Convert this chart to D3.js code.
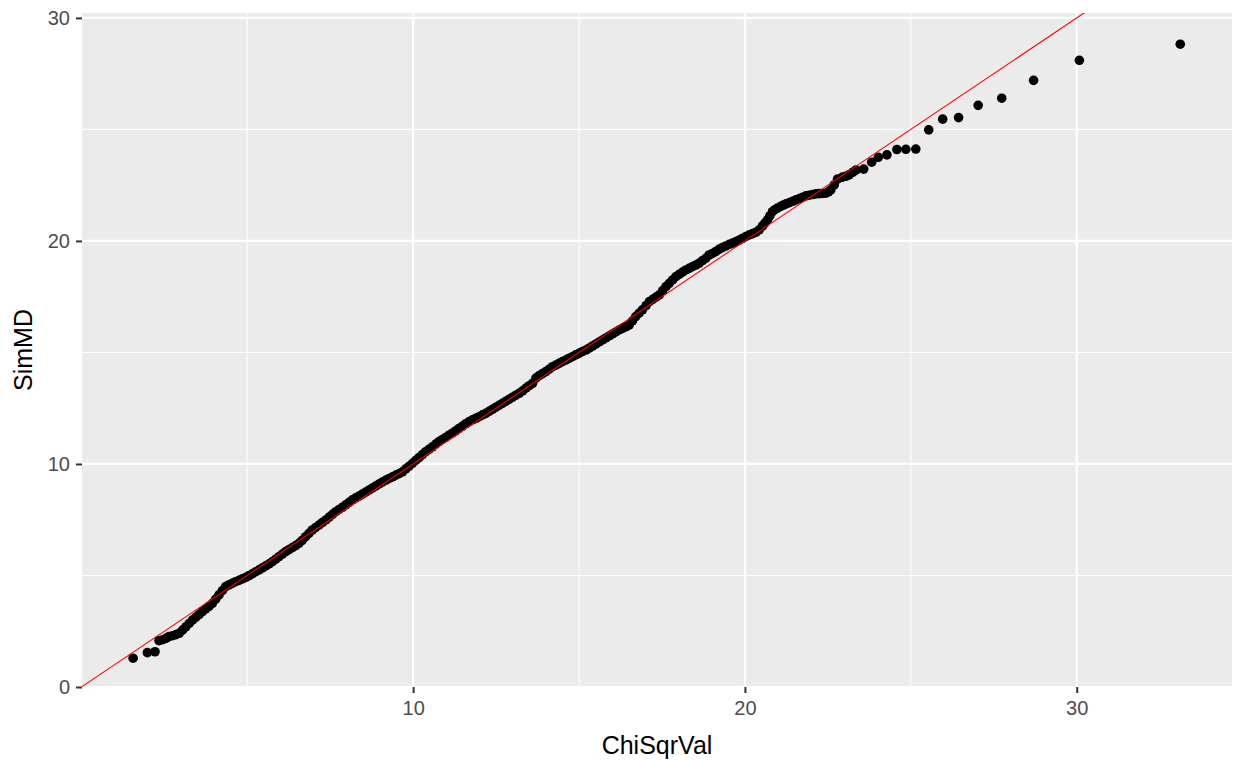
<!DOCTYPE html>
<html lang="en">
<head>
    <meta charset="UTF-8">
    <title>QQ plot SimMD vs ChiSqrVal</title>
    <script src="https://d3js.org/d3.v7.min.js"></script>
    <style>
        body { margin: 0; background: #fff; }
        text { font-family: "Liberation Sans", Arial, sans-serif; }
    </style>
</head>
<body>
    <svg width="1235" height="762"></svg>
    <script>

// Theoretical chi-square quantiles (x) and sorted simulated distances (y)
const chiSqrVal = [
    1.56, 1.99, 2.22, 2.34, 2.45, 2.55, 2.64, 2.75, 2.85, 2.95,
    3.05, 3.15, 3.25, 3.35, 3.45, 3.55, 3.65, 3.75, 3.85, 3.95,
    4.05, 4.15, 4.25, 4.35, 4.45, 4.55, 4.65, 4.75, 4.85, 4.96,
    5.06, 5.16, 5.26, 5.36, 5.46, 5.56, 5.66, 5.76, 5.86, 5.96,
    6.06, 6.16, 6.26, 6.36, 6.46, 6.56, 6.66, 6.76, 6.86, 6.96,
    7.06, 7.16, 7.26, 7.37, 7.47, 7.57, 7.67, 7.77, 7.87, 7.97,
    8.07, 8.17, 8.27, 8.37, 8.47, 8.57, 8.67, 8.77, 8.87, 8.97,
    9.07, 9.18, 9.28, 9.38, 9.48, 9.58, 9.68, 9.78, 9.88, 9.98,
    10.08, 10.18, 10.28, 10.38, 10.48, 10.58, 10.68, 10.78, 10.88, 10.98,
    11.08, 11.18, 11.28, 11.38, 11.48, 11.58, 11.69, 11.79, 11.89, 11.99,
    12.09, 12.19, 12.29, 12.39, 12.49, 12.59, 12.69, 12.79, 12.89, 12.99,
    13.09, 13.20, 13.30, 13.40, 13.50, 13.60, 13.70, 13.80, 13.90, 14.00,
    14.10, 14.20, 14.30, 14.40, 14.50, 14.60, 14.70, 14.80, 14.90, 15.00,
    15.10, 15.21, 15.31, 15.41, 15.51, 15.61, 15.71, 15.81, 15.91, 16.01,
    16.11, 16.21, 16.31, 16.41, 16.51, 16.61, 16.71, 16.81, 16.91, 17.02,
    17.12, 17.22, 17.32, 17.42, 17.52, 17.62, 17.72, 17.82, 17.92, 18.02,
    18.12, 18.22, 18.32, 18.42, 18.52, 18.62, 18.72, 18.82, 18.92, 19.02,
    19.12, 19.22, 19.32, 19.42, 19.53, 19.63, 19.73, 19.83, 19.93, 20.03,
    20.13, 20.23, 20.33, 20.43, 20.53, 20.60, 20.68, 20.75, 20.83, 20.90,
    20.98, 21.08, 21.16, 21.24, 21.34, 21.44, 21.54, 21.64, 21.74, 21.84,
    21.94, 22.04, 22.14, 22.24, 22.34, 22.44, 22.52, 22.59, 22.69, 22.79,
    22.94, 23.04, 23.14, 23.25, 23.35, 23.58, 23.82, 24.02, 24.28, 24.58,
    24.85, 25.15, 25.54, 25.96, 26.44, 27.03, 27.74, 28.70, 30.08, 33.12
];

const simMD = [
    1.29, 1.54, 1.58, 2.08, 2.12, 2.18, 2.26, 2.30, 2.35, 2.41,
    2.55, 2.70, 2.85, 3.00, 3.12, 3.25, 3.38, 3.50, 3.62, 3.75,
    3.94, 4.13, 4.32, 4.50, 4.58, 4.65, 4.72, 4.78, 4.85, 4.92,
    5.00, 5.08, 5.17, 5.25, 5.34, 5.43, 5.52, 5.62, 5.73, 5.85,
    5.96, 6.07, 6.16, 6.25, 6.34, 6.44, 6.58, 6.74, 6.89, 7.04,
    7.15, 7.26, 7.37, 7.49, 7.62, 7.74, 7.86, 7.96, 8.06, 8.17,
    8.28, 8.39, 8.48, 8.56, 8.65, 8.74, 8.83, 8.92, 9.01, 9.10,
    9.19, 9.28, 9.35, 9.42, 9.50, 9.57, 9.65, 9.78, 9.90, 10.03,
    10.16, 10.29, 10.42, 10.55, 10.66, 10.77, 10.89, 11.00, 11.10, 11.19,
    11.29, 11.38, 11.48, 11.59, 11.69, 11.80, 11.90, 11.98, 12.05, 12.12,
    12.20, 12.27, 12.36, 12.45, 12.54, 12.63, 12.72, 12.81, 12.90, 12.99,
    13.08, 13.17, 13.28, 13.40, 13.51, 13.62, 13.85, 13.96, 14.05, 14.14,
    14.25, 14.36, 14.43, 14.51, 14.59, 14.66, 14.74, 14.81, 14.89, 14.96,
    15.04, 15.11, 15.20, 15.29, 15.38, 15.47, 15.56, 15.65, 15.74, 15.83,
    15.92, 16.01, 16.08, 16.15, 16.23, 16.42, 16.61, 16.76, 16.91, 17.10,
    17.28, 17.38, 17.48, 17.58, 17.77, 17.95, 18.10, 18.25, 18.40, 18.50,
    18.60, 18.70, 18.77, 18.85, 18.92, 19.00, 19.12, 19.22, 19.37, 19.44,
    19.52, 19.62, 19.70, 19.77, 19.85, 19.90, 19.97, 20.04, 20.12, 20.20,
    20.27, 20.33, 20.39, 20.50, 20.67, 20.80, 20.94, 21.12, 21.31, 21.40,
    21.47, 21.55, 21.61, 21.66, 21.72, 21.78, 21.84, 21.90, 21.96, 22.02,
    22.05, 22.08, 22.11, 22.12, 22.13, 22.14, 22.20, 22.29, 22.51, 22.77,
    22.86, 22.90, 22.96, 23.08, 23.18, 23.22, 23.53, 23.75, 23.86, 24.10,
    24.11, 24.12, 24.98, 25.46, 25.53, 26.08, 26.40, 27.20, 28.10, 28.82
];

const xTicks = [10, 20, 30];
const xMinor = [5, 15, 25];
const yTicks = [0, 10, 20, 30];
const yMinor = [5, 15, 25];

const points = chiSqrVal.map((v, i) => ({ x: v, y: simMD[i] }));

const svg = d3.select("svg");
const panel = { left: 82, right: 1232, top: 13, bottom: 687 };

const x = d3.scaleLinear().domain([0.02, 34.68]).range([panel.left, panel.right]);
const y = d3.scaleLinear().domain([0, 30.22]).range([panel.bottom, panel.top]);

svg.append("rect")
    .attr("width", 1235).attr("height", 762)
    .attr("fill", "#fff");

svg.append("defs").append("clipPath").attr("id", "clip")
    .append("rect")
    .attr("x", panel.left).attr("y", panel.top)
    .attr("width", panel.right - panel.left)
    .attr("height", panel.bottom - panel.top);

// panel background
svg.append("rect")
    .attr("x", panel.left).attr("y", panel.top)
    .attr("width", panel.right - panel.left)
    .attr("height", panel.bottom - panel.top)
    .attr("fill", "#EBEBEB");

const grid = svg.append("g").attr("clip-path", "url(#clip)");

// minor grid
grid.selectAll(".xminor").data(xMinor).enter().append("line")
    .attr("x1", d => x(d)).attr("x2", d => x(d))
    .attr("y1", panel.top).attr("y2", panel.bottom)
    .attr("stroke", "#fff").attr("stroke-width", 1.1);
grid.selectAll(".yminor").data(yMinor).enter().append("line")
    .attr("y1", d => y(d)).attr("y2", d => y(d))
    .attr("x1", panel.left).attr("x2", panel.right)
    .attr("stroke", "#fff").attr("stroke-width", 1.1);

// major grid
grid.selectAll(".xmajor").data(xTicks).enter().append("line")
    .attr("x1", d => x(d)).attr("x2", d => x(d))
    .attr("y1", panel.top).attr("y2", panel.bottom)
    .attr("stroke", "#fff").attr("stroke-width", 2.2);
grid.selectAll(".ymajor").data(yTicks).enter().append("line")
    .attr("y1", d => y(d)).attr("y2", d => y(d))
    .attr("x1", panel.left).attr("x2", panel.right)
    .attr("stroke", "#fff").attr("stroke-width", 2.2);

// points
const plot = svg.append("g").attr("clip-path", "url(#clip)");
plot.selectAll("circle").data(points).enter().append("circle")
    .attr("cx", d => x(d.x))
    .attr("cy", d => y(d.y))
    .attr("r", 4.8)
    .attr("fill", "#000");

// reference line y = x
plot.append("line")
    .attr("x1", x(0)).attr("y1", y(0))
    .attr("x2", x(35)).attr("y2", y(35))
    .attr("stroke", "#FF0000").attr("stroke-width", 1.1);

// axes
const xAxis = d3.axisBottom(x).tickValues(xTicks).tickSize(6).tickPadding(8);
const yAxis = d3.axisLeft(y).tickValues(yTicks).tickSize(6).tickPadding(6);

const gx = svg.append("g")
    .attr("transform", `translate(0,${panel.bottom})`)
    .call(xAxis);
const gy = svg.append("g")
    .attr("transform", `translate(${panel.left},0)`)
    .call(yAxis);

[gx, gy].forEach(g => {
    g.select(".domain").remove();
    g.selectAll(".tick line").attr("stroke", "#333333").attr("stroke-width", 2);
    g.selectAll(".tick text")
        .attr("fill", "#4D4D4D")
        .style("font-size", "20px")
        .style("font-family", "'Liberation Sans', Arial, sans-serif");
});

// axis titles
svg.append("text")
    .attr("x", (panel.left + panel.right) / 2)
    .attr("y", 754)
    .attr("text-anchor", "middle")
    .style("font-size", "25px")
    .attr("fill", "#000")
    .text("ChiSqrVal");

svg.append("text")
    .attr("transform", `translate(32,${(panel.top + panel.bottom) / 2}) rotate(-90)`)
    .attr("text-anchor", "middle")
    .style("font-size", "25px")
    .attr("fill", "#000")
    .text("SimMD");

    </script>
</body>
</html>
